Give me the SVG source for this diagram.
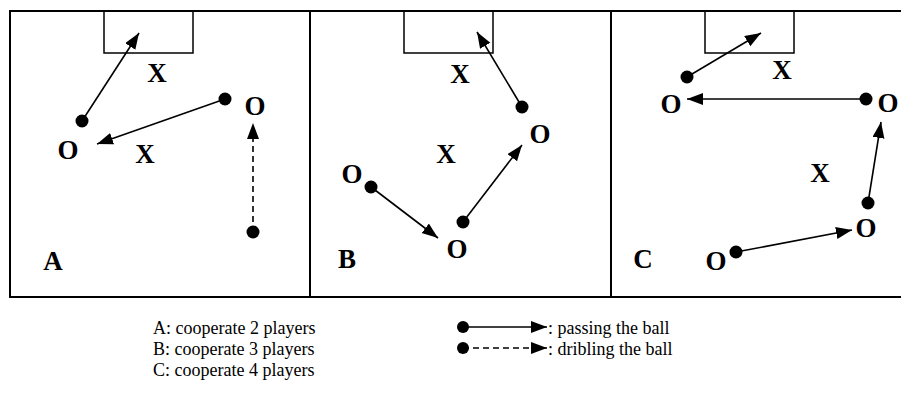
<svg xmlns="http://www.w3.org/2000/svg" width="901" height="401" viewBox="0 0 901 401">
<style>
.frame{fill:none;stroke:#000;stroke-width:2}
.goal{fill:none;stroke:#000;stroke-width:1.5}
.lbl{font-family:"Liberation Serif","Times New Roman",serif;font-weight:bold;font-size:27px;text-anchor:middle;fill:#000}
.leg{font-family:"Liberation Serif","Times New Roman",serif;font-size:18px;fill:#000}
.pass{stroke:#000;stroke-width:1.6;fill:none;marker-end:url(#ah)}
.drib{stroke:#000;stroke-width:1.6;fill:none;stroke-dasharray:6,4;marker-end:url(#ah)}
.dot{fill:#000}
</style>
<defs>
<marker id="ah" markerUnits="userSpaceOnUse" markerWidth="17" markerHeight="13" refX="16" refY="6" orient="auto">
<path d="M0,0 L16,6 L0,12 z" fill="#000"/>
</marker>
</defs>
<g id="field">
<rect class="frame" x="10" y="11" width="895" height="286"/>
<line class="frame" x1="310" y1="11" x2="310" y2="297"/>
<line class="frame" x1="611" y1="11" x2="611" y2="297"/>
</g>
<g id="panelA">
<rect class="goal" x="104" y="11" width="89" height="42"/>
<text class="lbl" x="157" y="82">X</text>
<text class="lbl" x="255" y="115">O</text>
<text class="lbl" x="68" y="159">O</text>
<text class="lbl" x="145" y="163">X</text>
<text class="lbl" x="53" y="270">A</text>
<circle class="dot" cx="82" cy="121" r="6.5"/>
<circle class="dot" cx="225" cy="99" r="6.5"/>
<circle class="dot" cx="253" cy="232" r="6.5"/>
</g>
<g id="panelB">
<rect class="goal" x="404" y="11" width="89" height="42"/>
<text class="lbl" x="460" y="83">X</text>
<text class="lbl" x="540" y="143">O</text>
<text class="lbl" x="446" y="163">X</text>
<text class="lbl" x="352" y="183">O</text>
<text class="lbl" x="457" y="258">O</text>
<text class="lbl" x="347" y="268">B</text>
<circle class="dot" cx="522" cy="107" r="6.5"/>
<circle class="dot" cx="371" cy="187" r="6.5"/>
<circle class="dot" cx="463" cy="222" r="6.5"/>
</g>
<g id="panelC">
<rect class="goal" x="705" y="11" width="89" height="42"/>
<text class="lbl" x="782" y="79">X</text>
<text class="lbl" x="671" y="113">O</text>
<text class="lbl" x="888" y="112">O</text>
<text class="lbl" x="820" y="182">X</text>
<text class="lbl" x="866" y="237">O</text>
<text class="lbl" x="716" y="270">O</text>
<text class="lbl" x="643" y="268">C</text>
<circle class="dot" cx="687" cy="77" r="6.5"/>
<circle class="dot" cx="866" cy="99" r="6.5"/>
<circle class="dot" cx="868" cy="203" r="6.5"/>
<circle class="dot" cx="736" cy="252" r="6.5"/>
</g>
<g id="connectors">
<line class="pass" x1="82" y1="121" x2="139" y2="33"/>
<line class="pass" x1="225" y1="99" x2="97" y2="144"/>
<line class="drib" x1="253" y1="232" x2="253" y2="123"/>
<line class="pass" x1="522" y1="107" x2="477" y2="32"/>
<line class="pass" x1="371" y1="187" x2="438" y2="238"/>
<line class="pass" x1="463" y1="222" x2="522" y2="145"/>
<line class="pass" x1="687" y1="77" x2="761" y2="33"/>
<line class="pass" x1="866" y1="99" x2="687" y2="99"/>
<line class="pass" x1="868" y1="203" x2="881" y2="122"/>
<line class="pass" x1="736" y1="252" x2="852" y2="230"/>
</g>
<g id="legend">
<text class="leg" x="153" y="334">A: cooperate 2 players</text>
<text class="leg" x="153" y="355">B: cooperate 3 players</text>
<text class="leg" x="153" y="376">C: cooperate 4 players</text>
<circle class="dot" cx="463" cy="327" r="6"/>
<line class="pass" x1="463" y1="327" x2="547" y2="327"/>
<text class="leg" x="548" y="334">: passing the ball</text>
<circle class="dot" cx="463" cy="348" r="6"/>
<line class="drib" x1="463" y1="348" x2="547" y2="348"/>
<text class="leg" x="548" y="355">: dribling the ball</text>
</g>
</svg>
